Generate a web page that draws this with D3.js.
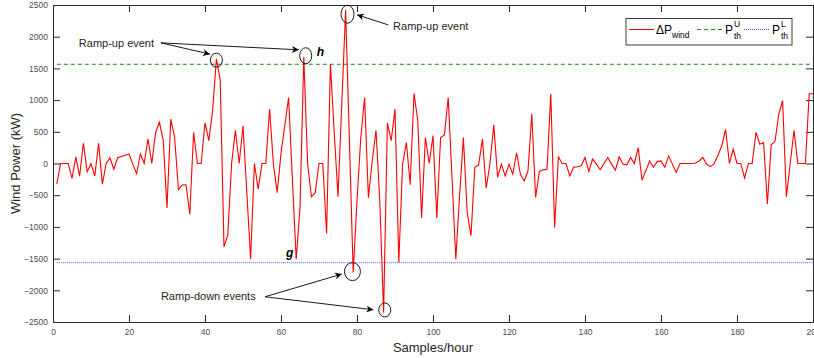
<!DOCTYPE html>
<html>
<head>
<meta charset="utf-8">
<script src="https://cdn.jsdelivr.net/npm/d3@7"></script>
<style>
  body { margin: 0; background: #fff; }
  svg { font-family: "Liberation Sans", Arial, sans-serif; }
</style>
</head>
<body>
<svg id="chart" width="814" height="358"></svg>
<script>
// delta P wind, samples 1..200
const samples = d3.range(1, 201);
const deltaP = [
  -320, 0, 0, 0, -235, 105, -200, 320, -130, 0,
  -200, 320, -325, 0, 90, -90, 90, 110, 130, 150,
  -10, -160, 150, 0, 390, 0, 490, 650, 370, -700,
  700, 420, -410, -340, -335, -800, 490, 0, 0, 640,
  360, 830, 1650, 1320, -1315, -1125, 0, 525, 0, 595,
  -450, -1510, 0, -405, 0, 0, 860, -10, -460, 160,
  600, 1040, -250, -1510, -700, 1680, 0, -525, -460, 0,
  0, -1105, 1570, 500, -525, 950, 2420, 360, -1720, -590,
  410, 1040, -540, 40, 525, -590, -2350, 637, 360, 860,
  -1560, -10, 330, -335, 1105, 675, -860, 410, 0, 440,
  -860, 410, 450, 1040, -220, -1510, -500, 410, -775, -1140,
  -60, -25, 385, -390, 0, 610, -220, -10, -195, -10,
  -170, 170, -170, -275, -115, 780, -535, -125, -100, -90,
  1095, -1010, 105, 0, 0, -195, -60, -50, -35, 95,
  -125, 70, -10, -100, 0, 95, -10, -105, 105, -10,
  -20, 95, 0, 250, -265, -115, 40, -60, 30, 40,
  -60, 120, -10, -140, 0, 0, 0, 0, 5, 40,
  95, -10, -50, 0, 130, 280, 540, 0, 225, 0,
  0, -230, 0, 0, 490, 305, 330, -640, 295, 350,
  780, 990, -525, 0, 525, 0, 0, 0, 1100, 1100
];
const thUpper = 1565;
const thLower = -1565;
const xTicks = d3.range(0, 201, 20);
const yTicks = d3.range(-2500, 2501, 500);

// circled ramp events [sample, value, rx, ry]
const circles = [[43, 1630, 6, 7], [66.5, 1700, 6, 8], [77.5, 2355, 6.5, 9], [78.8, -1705, 8, 9], [87.3, -2310, 6, 7]];

const svg = d3.select("#chart");
const margin = {left: 53, right: 1, top: 5, bottom: 36};
const W = 814, H = 358;
const x = d3.scaleLinear().domain([0, 200]).range([margin.left, W - margin.right]);
const y = d3.scaleLinear().domain([-2500, 2500]).range([H - margin.bottom, margin.top]);
const axisCol = "#262626";

const defs = svg.append("defs");
defs.append("marker").attr("id", "arr")
  .attr("viewBox", "0 0 10 10").attr("refX", 10).attr("refY", 5)
  .attr("markerWidth", 9).attr("markerHeight", 7).attr("markerUnits", "userSpaceOnUse")
  .attr("orient", "auto")
  .append("path").attr("d", "M0,0 L10,5 L0,10 L3,5 Z").attr("fill", "#000");

// axes box with inward ticks
const tl = 7;
const gx = svg.append("g").attr("transform", `translate(0,${y(-2500)})`)
  .call(d3.axisBottom(x).tickValues(xTicks).tickSizeInner(-tl).tickSizeOuter(0).tickPadding(5));
const gxt = svg.append("g").attr("transform", `translate(0,${y(2500)})`)
  .call(d3.axisTop(x).tickValues(xTicks).tickSizeInner(-tl).tickSizeOuter(0).tickFormat(""));
const gy = svg.append("g").attr("transform", `translate(${x(0)},0)`)
  .call(d3.axisLeft(y).tickValues(yTicks).tickFormat(d3.format("d")).tickSizeInner(-tl).tickSizeOuter(0).tickPadding(5));
const gyr = svg.append("g").attr("transform", `translate(${x(200)},0)`)
  .call(d3.axisRight(y).tickValues(yTicks).tickSizeInner(-tl).tickSizeOuter(0).tickFormat(""));
[gx, gxt, gy, gyr].forEach(g => {
  g.select(".domain").attr("stroke", axisCol).attr("stroke-width", 1);
  g.selectAll(".tick line").attr("stroke", axisCol);
  g.selectAll("text").attr("fill", "#4d4d4d").attr("font-size", "8.5px");
});
gx.selectAll("text").attr("dy", "0.9em");

// thresholds
svg.append("line").attr("x1", x(1)).attr("x2", x(200)).attr("y1", y(thUpper)).attr("y2", y(thUpper))
  .attr("stroke", "#1a8a1a").attr("stroke-width", 1).attr("stroke-dasharray", "4,3");
svg.append("line").attr("x1", x(1)).attr("x2", x(200)).attr("y1", y(thLower)).attr("y2", y(thLower))
  .attr("stroke", "#4d4dff").attr("stroke-width", 1).attr("stroke-dasharray", "1,1");

// series
const line = d3.line().x((d, i) => x(samples[i])).y(d => y(d));
svg.append("path").datum(deltaP).attr("d", line)
  .attr("fill", "none").attr("stroke", "#ff0000").attr("stroke-width", 1.1);

// labels
svg.append("text").attr("transform", `translate(17,${y(0)}) rotate(-90)`)
  .attr("text-anchor", "middle").attr("dominant-baseline", "middle")
  .attr("font-size", "13px").attr("fill", axisCol).text("Wind Power (kW)");
svg.append("text").attr("x", 433).attr("y", 352).attr("text-anchor", "middle")
  .attr("font-size", "13px").attr("fill", axisCol).text("Samples/hour");

// annotations
svg.selectAll("ellipse.ev").data(circles).join("ellipse")
  .attr("cx", d => x(d[0])).attr("cy", d => y(d[1])).attr("rx", d => d[2]).attr("ry", d => d[3])
  .attr("fill", "none").attr("stroke", "#000").attr("stroke-width", 0.9);

function note(t, sx, sv) {
  svg.append("text").attr("x", x(sx)).attr("y", y(sv)).attr("dominant-baseline", "middle")
    .attr("font-size", "11px").attr("fill", axisCol).text(t);
}
function arrow(a, b) {
  svg.append("line").attr("x1", x(a[0])).attr("y1", y(a[1])).attr("x2", x(b[0])).attr("y2", y(b[1]))
    .attr("stroke", "#000").attr("stroke-width", 0.9).attr("marker-end", "url(#arr)");
}
note("Ramp-up event", 6.8, 1888);
arrow([28.4, 1903], [41.3, 1725]);
arrow([28.4, 1903], [64.7, 1793]);
note("Ramp-up event", 89.5, 2156);
arrow([88.2, 2187], [80, 2345]);
note("Ramp-down events", 28.4, -2102);
arrow([55.8, -2102], [76, -1744]);
arrow([55.8, -2102], [84.3, -2307]);
svg.append("text").attr("x", x(61.3)).attr("y", y(-1419)).attr("dominant-baseline", "middle")
  .attr("font-size", "12px").attr("font-weight", "bold").attr("font-style", "italic").text("g");
svg.append("text").attr("x", x(69.4)).attr("y", y(1746)).attr("dominant-baseline", "middle")
  .attr("font-size", "12px").attr("font-weight", "bold").attr("font-style", "italic").text("h");

// legend
const lg = svg.append("g");
lg.append("rect").attr("x", 626).attr("y", 18.5).attr("width", 166).attr("height", 26.5)
  .attr("fill", "#fff").attr("stroke", axisCol).attr("stroke-width", 0.9);
lg.append("line").attr("x1", 629).attr("x2", 654).attr("y1", 29.5).attr("y2", 29.5)
  .attr("stroke", "#ff0000").attr("stroke-width", 1);
lg.append("line").attr("x1", 697).attr("x2", 723).attr("y1", 29.5).attr("y2", 29.5)
  .attr("stroke", "#1a8a1a").attr("stroke-dasharray", "4,3");
lg.append("line").attr("x1", 744).attr("x2", 770).attr("y1", 29.5).attr("y2", 29.5)
  .attr("stroke", "#4d4dff").attr("stroke-dasharray", "1,1");
const t1 = lg.append("text").attr("x", 656).attr("y", 34).attr("font-size", "12px").attr("fill", "#000");
t1.append("tspan").text("\u0394P");
t1.append("tspan").attr("font-size", "8.5px").attr("dy", 4).text("wind");
function pth(x0, sup) {
  lg.append("text").attr("x", x0).attr("y", 34).attr("font-size", "12px").attr("fill", "#000").text("P");
  lg.append("text").attr("x", x0 + 9).attr("y", 27).attr("font-size", "8.5px").attr("fill", "#000").text(sup);
  lg.append("text").attr("x", x0 + 9).attr("y", 39).attr("font-size", "8.5px").attr("fill", "#000").text("th");
}
pth(725, "U");
pth(772, "L");
</script>
</body>
</html>
